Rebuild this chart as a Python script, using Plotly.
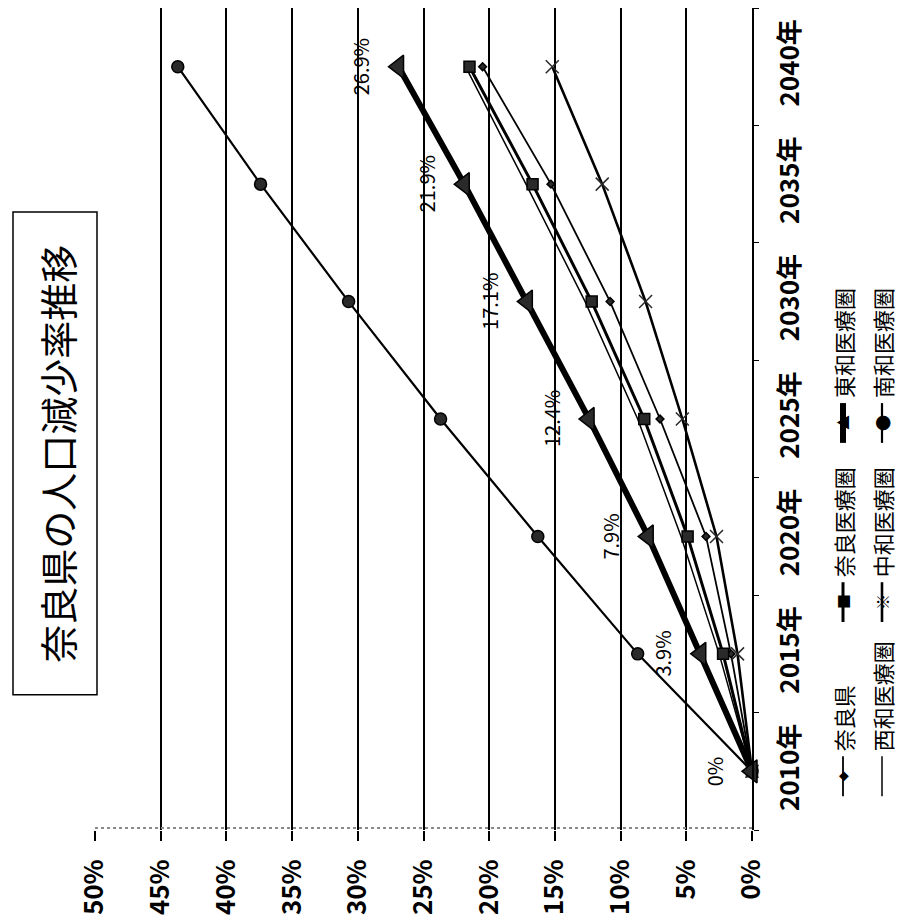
import plotly.graph_objects as go

# ---- data -------------------------------------------------------------
years = ["2010年", "2015年", "2020年", "2025年", "2030年", "2035年", "2040年"]
nara_pref = [0, 1.6, 3.5, 7.0, 10.8, 15.3, 20.5]      # 奈良県
nara_area = [0, 2.2, 4.9, 8.2, 12.2, 16.7, 21.5]      # 奈良医療圏
towa_area = [0, 3.9, 7.9, 12.4, 17.1, 21.9, 26.9]     # 東和医療圏
seiwa_area = [0, 2.5, 5.4, 8.7, 12.7, 17.2, 21.8]     # 西和医療圏
chuwa_area = [0, 1.1, 2.7, 5.3, 8.1, 11.4, 15.2]      # 中和医療圏
nanwa_area = [0, 8.7, 16.3, 23.7, 30.7, 37.4, 43.7]   # 南和医療圏
towa_labels = ["0%", "3.9%", "7.9%", "12.4%", "17.1%", "21.9%", "26.9%"]
pct_ticks = [0, 5, 10, 15, 20, 25, 30, 35, 40, 45, 50]
pct_text = [f"{v}%" for v in pct_ticks]

title_text = "奈良県の人口減少率推移"

# ---- layout geometry (pixels) -----------------------------------------
W, H = 900, 923
L, R, T, B = 95, 148, 8, 89
PW, PH = W - L - R, H - T - B


def px(x):
    return (x - L) / PW


def py(y):
    return (H - B - y) / PH


FONT = "Noto Sans CJK JP"

fig = go.Figure()

series = [
    dict(name="奈良県", v=nara_pref, w=1.8, sym="diamond", size=6),
    dict(name="西和医療圏", v=seiwa_area, w=1.5, sym=None, size=0),
    dict(name="奈良医療圏", v=nara_area, w=3, sym="square", size=11),
    dict(name="中和医療圏", v=chuwa_area, w=2.6, sym="x-thin-open", size=13),
    dict(name="南和医療圏", v=nanwa_area, w=2.2, sym="circle", size=12),
    dict(name="東和医療圏", v=towa_area, w=6, sym="triangle-left", size=20),
]

for s in series:
    mode = "lines+markers" if s["sym"] else "lines"
    marker = dict(symbol=s["sym"] or "circle", size=s["size"], color="#2a2a2a",
                  line=dict(color="black", width=1.5))
    fig.add_trace(go.Scatter(
        x=s["v"], y=years, mode=mode, name=s["name"],
        line=dict(color="black", width=s["w"]),
        marker=marker, showlegend=False, cliponaxis=False,
    ))

annotations = []
# data labels above the 東和医療圏 points
for val, yr, lab in zip(towa_area, years, towa_labels):
    annotations.append(dict(x=val, y=yr, xref="x", yref="y", text=lab, showarrow=False,
                            xshift=-38, textangle=-90,
                            font=dict(family=FONT, size=20, color="black")))

shapes = []
# dotted value-axis line along the bottom of the plot area
shapes.append(dict(type="line", xref="paper", yref="paper", x0=0, x1=1,
                   y0=py(832), y1=py(832), line=dict(color="#8a8a8a", width=2, dash="dot")))
# title frame
shapes.append(dict(type="rect", xref="paper", yref="paper", layer="below",
                   x0=px(13), x1=px(97), y0=py(698), y1=py(213),
                   line=dict(color="black", width=1.5)))

annotations.append(dict(xref="paper", yref="paper", x=px(57), y=py(456), text=title_text,
                        showarrow=False, textangle=-90, xanchor="center", yanchor="middle",
                        font=dict(family=FONT, size=38, color="black")))

# legend laid out as two rotated rows
legend_items = [
    ("奈良県", 843, 800, 1.8, "◆", 10),
    ("奈良医療圏", 843, 625, 3, "■", 15),
    ("東和医療圏", 843, 445, 6, "▲", 15),
    ("西和医療圏", 882, 800, 1.5, None, 0),
    ("中和医療圏", 882, 625, 2.6, "※", 16),
    ("南和医療圏", 882, 445, 2.2, "●", 16),
]
LEG_FONT = 22
for name, cx, ybot, lw, glyph, gsize in legend_items:
    shapes.append(dict(type="line", xref="paper", yref="paper", x0=px(cx), x1=px(cx),
                       y0=py(ybot), y1=py(ybot - 40), line=dict(color="black", width=lw)))
    if glyph:
        annotations.append(dict(xref="paper", yref="paper", x=px(cx), y=py(ybot - 20),
                                text=glyph, showarrow=False, textangle=-90,
                                xanchor="center", yanchor="middle",
                                font=dict(family=FONT, size=gsize, color="black")))
    annotations.append(dict(xref="paper", yref="paper", x=px(cx), y=py(ybot - 43),
                            text=name, showarrow=False, textangle=-90,
                            xanchor="center", yanchor="bottom",
                            font=dict(family=FONT, size=LEG_FONT, color="black")))

fig.update_layout(
    width=W, height=H, autosize=False,
    margin=dict(l=L, r=R, t=T, b=B, pad=0),
    paper_bgcolor="white", plot_bgcolor="white",
    shapes=shapes, annotations=annotations,
    xaxis=dict(range=[50, 0], tickvals=pct_ticks, ticktext=pct_text,
               showgrid=True, gridcolor="black", gridwidth=1.5,
               zeroline=False, showline=False,
               ticks="outside", ticklen=10, tickwidth=1.5, tickcolor="black",
               tickangle=-90, ticklabelstandoff=8,
               tickfont=dict(family=FONT, size=26, color="black", weight="bold")),
    yaxis=dict(type="category", categoryorder="array", categoryarray=years,
               range=[-0.5, 6.5], side="right", showgrid=False, zeroline=False,
               showline=True, linecolor="black", linewidth=1.5,
               ticks="outside", ticklen=5, tickcolor="black", tickson="boundaries",
               tickangle=-90, ticklabelstandoff=14,
               tickfont=dict(family=FONT, size=26, color="black", weight="bold")),
)

fig.write_html("out.html")
